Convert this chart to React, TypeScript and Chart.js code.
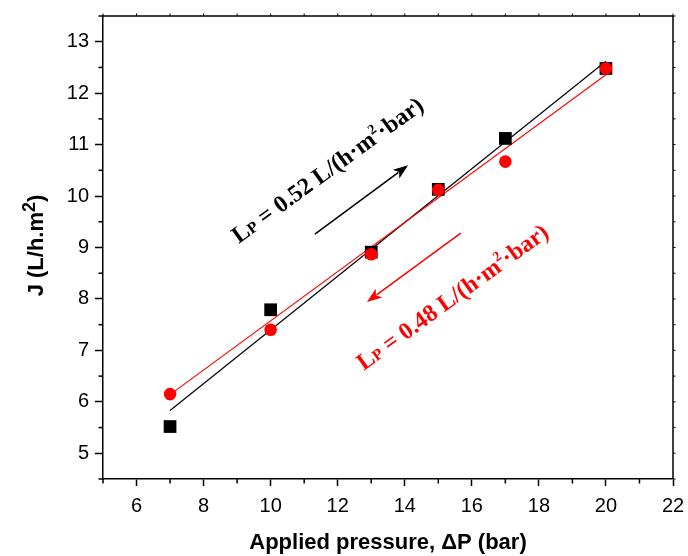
import React, { useEffect, useRef } from "react";
import { Chart, registerables } from "chart.js";

Chart.register(...registerables);

// ---- data ----
const PRESSURE = [7, 10, 13, 15, 17, 20];
const J_UP = [5.52, 7.79, 8.91, 10.13, 11.12, 12.48];      // black squares
const J_DOWN = [6.15, 7.40, 8.87, 10.12, 10.67, 12.48];    // red circles
const FIT_X = [7, 20];
const FIT_UP = [5.83, 12.62];
const FIT_DOWN = [6.14, 12.36];
const X_TICKS = [6, 8, 10, 12, 14, 16, 18, 20, 22];
const X_MINOR = [5, 7, 9, 11, 13, 15, 17, 19, 21];
const Y_TICKS = [5, 6, 7, 8, 9, 10, 11, 12, 13];
const Y_MINOR = [4.5, 5.5, 6.5, 7.5, 8.5, 9.5, 10.5, 11.5, 12.5, 13.5];
const X_TITLE = "Applied pressure, \u0394P (bar)";
const Y_TITLE = ["J (L/h.m", "2", ")"];
const LABEL_UP = { value: "0.52", anchor: [9.05, 9.07], arrow: [[11.32, 9.26], [14.1, 10.6]] };
const LABEL_DOWN = { value: "0.48", anchor: [12.78, 6.6], arrow: [[15.67, 9.28], [12.87, 7.94]] };

const SANS = "Arial, 'Liberation Sans', Helvetica, sans-serif";
const SERIF = "'Times New Roman', 'Liberation Serif', serif";

function drawArrow(ctx: CanvasRenderingContext2D, x0: number, y0: number, x1: number, y1: number, color: string) {
  const ang = Math.atan2(y1 - y0, x1 - x0);
  const hl = 15, hw = 5.5;
  ctx.save();
  ctx.strokeStyle = color;
  ctx.fillStyle = color;
  ctx.lineWidth = 1.5;
  ctx.beginPath();
  ctx.moveTo(x0, y0);
  ctx.lineTo(x1 - Math.cos(ang) * hl * 0.8, y1 - Math.sin(ang) * hl * 0.8);
  ctx.stroke();
  ctx.translate(x1, y1);
  ctx.rotate(ang);
  ctx.beginPath();
  ctx.moveTo(0, 0);
  ctx.lineTo(-hl, -hw);
  ctx.lineTo(-hl * 0.75, 0);
  ctx.lineTo(-hl, hw);
  ctx.closePath();
  ctx.fill();
  ctx.restore();
}

function drawLp(ctx: CanvasRenderingContext2D, value: string, x: number, y: number, color: string) {
  const parts: [string, number, number][] = [
    ["L", 24, 0],
    ["P", 16, 0],
    [" = " + value + " L/(h\u00B7m", 24, 0],
    ["2", 14, -10],
    ["\u00B7bar)", 24, 0],
  ];
  ctx.save();
  ctx.translate(x, y);
  ctx.rotate((-36 * Math.PI) / 180);
  ctx.fillStyle = color;
  ctx.textBaseline = "alphabetic";
  ctx.textAlign = "left";
  let cx = 0;
  for (const [t, s, dy] of parts) {
    ctx.font = `bold ${s}px ${SERIF}`;
    ctx.fillText(t, cx, dy);
    cx += ctx.measureText(t).width;
  }
  ctx.restore();
}

const decoPlugin = {
  id: "deco",
  afterDraw(chart: any) {
    const { ctx, chartArea: ca, scales } = chart;
    const x = scales.x, y = scales.y;
    ctx.save();
    ctx.strokeStyle = "#000";
    ctx.lineWidth = 1.5;
    const seg = (a: number, b: number, c: number, d: number) => {
      ctx.beginPath();
      ctx.moveTo(a, b);
      ctx.lineTo(c, d);
      ctx.stroke();
    };
    // frame top/right
    seg(ca.left, ca.top, ca.right, ca.top);
    seg(ca.right, ca.top, ca.right, ca.bottom);
    // minor ticks bottom / left
    for (const v of X_MINOR) {
      const px = x.getPixelForValue(v);
      seg(px, ca.bottom, px, ca.bottom + 4.5);
    }
    for (const v of Y_MINOR) {
      const py = y.getPixelForValue(v);
      seg(ca.left, py, ca.left - 4.5, py);
    }
    // small ticks top / right
    ctx.lineWidth = 1;
    for (const v of [...X_TICKS, ...X_MINOR]) {
      const px = x.getPixelForValue(v);
      seg(px, ca.top, px, ca.top - 2.5);
    }
    for (const v of [...Y_TICKS, ...Y_MINOR]) {
      const py = y.getPixelForValue(v);
      seg(ca.right, py, ca.right + 2.5, py);
    }
    // axis titles
    ctx.fillStyle = "#000";
    ctx.font = `bold 22px ${SANS}`;
    ctx.textAlign = "center";
    ctx.textBaseline = "middle";
    ctx.fillText(X_TITLE, (ca.left + ca.right) / 2, 543);
    // y title (rotated, with superscript)
    ctx.save();
    ctx.translate(43, (ca.top + ca.bottom) / 2 - 2);
    ctx.rotate(-Math.PI / 2);
    ctx.textAlign = "left";
    ctx.textBaseline = "alphabetic";
    const f1 = `bold 22px ${SANS}`, f2 = `bold 18px ${SANS}`;
    ctx.font = f1;
    const w0 = ctx.measureText(Y_TITLE[0]).width;
    const w2 = ctx.measureText(Y_TITLE[2]).width;
    ctx.font = f2;
    const w1 = ctx.measureText(Y_TITLE[1]).width;
    let cx = -(w0 + w1 + w2) / 2;
    ctx.font = f1;
    ctx.fillText(Y_TITLE[0], cx, 0);
    cx += w0;
    ctx.font = f2;
    ctx.fillText(Y_TITLE[1], cx, -8);
    cx += w1;
    ctx.font = f1;
    ctx.fillText(Y_TITLE[2], cx, 0);
    ctx.restore();
    // annotations
    for (const [lab, color] of [[LABEL_UP, "#000"], [LABEL_DOWN, "#ff0000"]] as [typeof LABEL_UP, string][]) {
      const [a0, a1] = lab.arrow;
      drawArrow(ctx, x.getPixelForValue(a0[0]), y.getPixelForValue(a0[1]), x.getPixelForValue(a1[0]), y.getPixelForValue(a1[1]), color);
      drawLp(ctx, lab.value, x.getPixelForValue(lab.anchor[0]), y.getPixelForValue(lab.anchor[1]), color);
    }
    ctx.restore();
  },
};

export default function App() {
  const ref = useRef<HTMLCanvasElement | null>(null);
  useEffect(() => {
    if (!ref.current) return;
    const pts = (ys: number[], xs: number[]) => xs.map((v, i) => ({ x: v, y: ys[i] }));
    const chart = new Chart(ref.current, {
      type: "scatter",
      data: {
        datasets: [
          {
            type: "line",
            data: pts(FIT_UP, FIT_X),
            borderColor: "#000",
            borderWidth: 1.2,
            pointRadius: 0,
            showLine: true,
            order: 3,
          } as any,
          {
            type: "line",
            data: pts(FIT_DOWN, FIT_X),
            borderColor: "#ff0000",
            borderWidth: 1.2,
            pointRadius: 0,
            showLine: true,
            order: 2,
          } as any,
          {
            data: pts(J_UP, PRESSURE),
            pointStyle: "rect",
            pointRadius: 9,
            backgroundColor: "#000",
            borderColor: "#000",
            borderWidth: 0,
            order: 1,
          },
          {
            data: pts(J_DOWN, PRESSURE),
            pointStyle: "circle",
            pointRadius: 6.3,
            backgroundColor: "#ff0000",
            borderColor: "#ff0000",
            borderWidth: 0,
            order: 0,
          },
        ],
      },
      options: {
        responsive: false,
        animation: false,
        layout: { padding: { left: 0, top: 16, right: 15, bottom: 0 } },
        plugins: { legend: { display: false }, tooltip: { enabled: false } },
        scales: {
          x: {
            type: "linear",
            min: 5,
            max: 22,
            afterBuildTicks: (s: any) => { s.ticks = X_TICKS.map((v) => ({ value: v })); },
            afterFit: (s: any) => { s.height = 77; s.paddingRight = 0; s.paddingLeft = 0; },
            grid: { drawOnChartArea: false, drawTicks: true, tickLength: 7, tickWidth: 1.5, tickColor: "#000" },
            border: { display: true, color: "#000", width: 1.5 },
            ticks: { color: "#000", font: { family: SANS, size: 20 }, padding: 8, maxRotation: 0, autoSkip: false },
            title: { display: false },
          },
          y: {
            type: "linear",
            min: 4.5,
            max: 13.5,
            afterBuildTicks: (s: any) => { s.ticks = Y_TICKS.map((v) => ({ value: v })); },
            afterFit: (s: any) => { s.width = 103; s.paddingTop = 0; s.paddingBottom = 0; },
            grid: { drawOnChartArea: false, drawTicks: true, tickLength: 8, tickWidth: 1.5, tickColor: "#000" },
            border: { display: true, color: "#000", width: 1.5 },
            ticks: { color: "#000", font: { family: SANS, size: 20 }, padding: 6, autoSkip: false },
            title: { display: false },
          },
        },
      },
      plugins: [decoPlugin],
    });
    return () => chart.destroy();
  }, []);
  return (
    <div style={{ position: "fixed", left: 0, top: 0, width: 688, height: 556, background: "#fff" }}>
      <canvas ref={ref} width={688} height={556} style={{ width: 688, height: 556, display: "block" }} />
    </div>
  );
}
